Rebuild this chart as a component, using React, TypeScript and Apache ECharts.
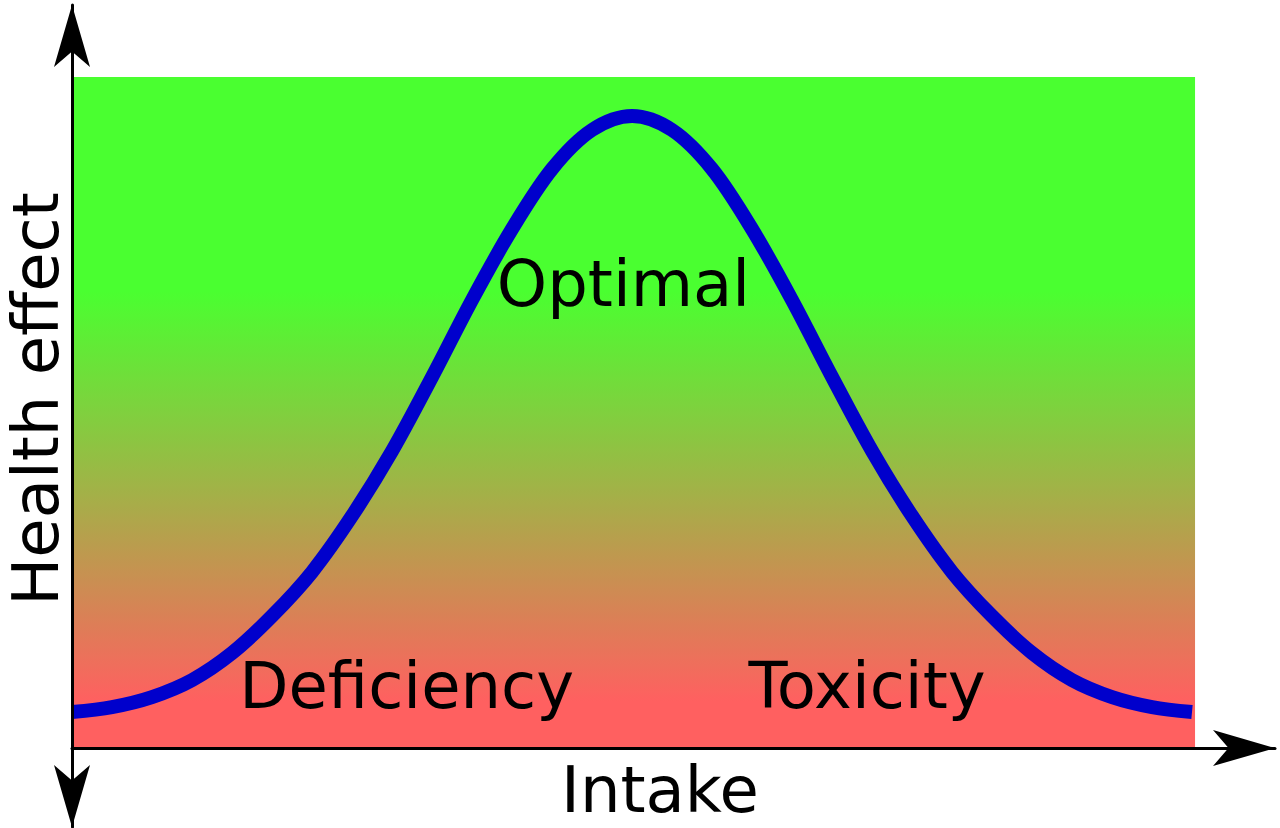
import React, { useEffect, useRef } from "react";
import * as echarts from "echarts";

// Curve (intake 0..100, health effect 0..100)
const intake = [0, 3.56, 7.12, 10.69, 14.25, 17.81, 21.37, 24.93, 28.5, 32.06, 35.62, 39.18, 42.74, 46.3, 49.87, 53.43, 56.99, 60.55, 64.11, 67.68, 71.24, 74.8, 78.36, 81.92, 85.49, 89.05, 92.61, 96.17, 99.73];
const health = [5.37, 6.11, 7.6, 10.13, 14.16, 19.67, 26.23, 34.58, 44.26, 55.29, 66.77, 77.35, 86.29, 92.1, 94.19, 92.1, 86.29, 77.35, 66.77, 55.29, 44.26, 34.58, 26.23, 19.67, 14.16, 10.13, 7.6, 6.11, 5.37];

// Region labels
const regionNames = ["Optimal", "Deficiency", "Toxicity"];
const regionX = [49.1, 29.8, 70.8];
const regionY = [69.2, 9.2, 9.2];

const xTitle = "Intake";
const yTitle = "Health effect";

const FONT = "DejaVu Sans";

export default function App() {
  const ref = useRef<HTMLDivElement>(null);
  useEffect(() => {
    if (!ref.current) return;
    const chart = echarts.init(ref.current, undefined, { renderer: "svg" });
    const gradient = new echarts.graphic.LinearGradient(0, 0, 0, 1, [
      { offset: 0, color: "#4aff30" },
      { offset: 0.32, color: "#4aff30" },
      { offset: 0.93, color: "#ff6060" },
      { offset: 1, color: "#ff6060" },
    ]);
    chart.setOption({
      animation: false,
      backgroundColor: "#ffffff",
      grid: {
        left: 72,
        right: 5,
        top: 5,
        bottom: 1,
        containLabel: false,
        outerBoundsMode: "none",
      },
      xAxis: {
        type: "value",
        min: 0,
        max: 107.12,
        z: 10,
        axisLine: {
          show: true,
          onZero: true,
          symbol: ["none", "arrow"],
          symbolSize: [27, 62],
          lineStyle: { color: "#000", width: 3 },
        },
        axisTick: { show: false },
        axisLabel: { show: false },
        splitLine: { show: false },
      },
      yAxis: {
        type: "value",
        min: -11.77,
        max: 110.73,
        z: 10,
        axisLine: {
          show: true,
          onZero: true,
          symbol: ["arrow", "arrow"],
          symbolSize: [27, 62],
          lineStyle: { color: "#000", width: 3 },
        },
        axisTick: { show: false },
        axisLabel: { show: false },
        splitLine: { show: false },
      },
      graphic: [
        {
          type: "text",
          x: 36,
          y: 399,
          rotation: Math.PI / 2,
          style: {
            text: yTitle,
            fontFamily: FONT,
            fontSize: 64,
            lineHeight: 64,
            fill: "#000",
            align: "center",
            verticalAlign: "middle",
            textAlign: "center",
            textVerticalAlign: "middle",
          },
        },
        {
          type: "text",
          x: 660,
          y: 790,
          style: {
            text: xTitle,
            fontFamily: FONT,
            fontSize: 64,
            lineHeight: 64,
            fill: "#000",
            align: "center",
            verticalAlign: "middle",
            textAlign: "center",
            textVerticalAlign: "middle",
          },
        },
      ],
      series: [
        {
          type: "line",
          name: "background",
          data: [],
          silent: true,
          z: 1,
          markArea: {
            silent: true,
            itemStyle: { color: gradient, borderWidth: 0, opacity: 1 },
            emphasis: { disabled: true },
            data: [[{ coord: [0, 0] }, { coord: [100, 100] }]],
          },
        },
        {
          type: "line",
          name: "Health effect",
          data: intake.map((x, i) => [x, health[i]]),
          smooth: 0.33,
          showSymbol: false,
          symbol: "none",
          z: 3,
          lineStyle: { color: "#0000cc", width: 14, cap: "butt" },
        },
        {
          type: "scatter",
          name: "regions",
          z: 4,
          symbolSize: 1,
          itemStyle: { color: "rgba(0,0,0,0)", opacity: 1 },
          silent: true,
          data: regionNames.map((n, i) => ({ name: n, value: [regionX[i], regionY[i]] })),
          label: {
            show: true,
            position: "inside",
            formatter: (p: any) => p.name,
            fontFamily: FONT,
            fontSize: 64,
            color: "#000",
            opacity: 1,
            align: "center",
            verticalAlign: "middle",
          },
        },
      ],
    });
    return () => chart.dispose();
  }, []);
  return (
    <div
      ref={ref}
      style={{ position: "fixed", left: 0, top: 0, width: 1280, height: 828 }}
    />
  );
}
